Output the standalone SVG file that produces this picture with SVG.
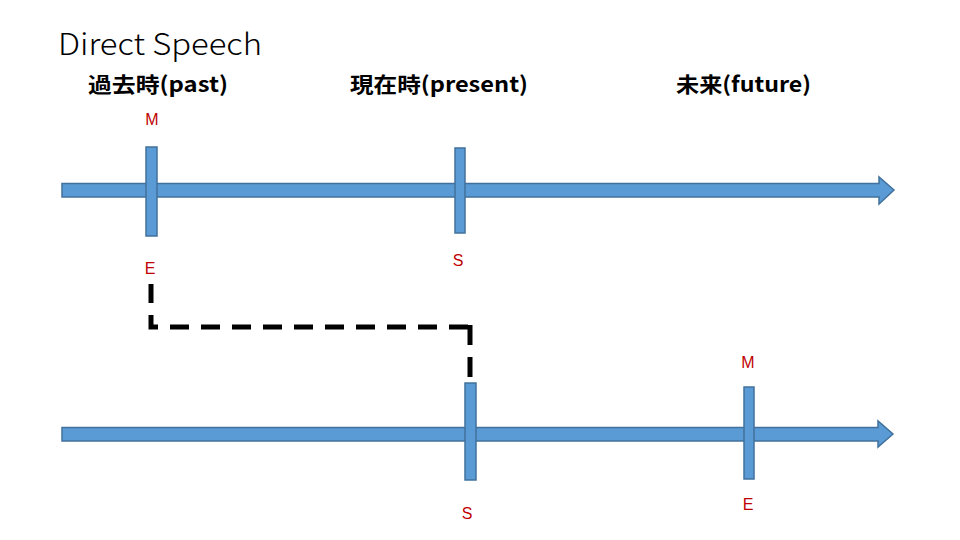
<svg xmlns="http://www.w3.org/2000/svg" width="960" height="540" viewBox="0 0 960 540">
<style>
.title{font-family:"Noto Sans CJK JP","DejaVu Sans",sans-serif;font-weight:300;font-size:30px;fill:#000}
.hdr{font-family:"Noto Sans CJK JP","Liberation Sans",sans-serif;font-weight:700;font-size:21px;fill:#000}
.lbl{font-family:"Liberation Sans","Noto Sans",sans-serif;font-size:16px;fill:#C00000;text-anchor:middle}
.axis{fill:#5B9BD5;stroke:#41719C;stroke-width:1.5}
.tick{fill:#5B9BD5;stroke:#41719C;stroke-width:1.5}
.dash{fill:none;stroke:#000;stroke-width:5;stroke-dasharray:19 12}
</style>
<rect width="960" height="540" fill="#fff"/>
<g id="title"><text class="title" x="58" y="55" textLength="204" lengthAdjust="spacingAndGlyphs">Direct Speech</text></g>
<g id="headers">
<text class="hdr" x="88" y="92" textLength="140" lengthAdjust="spacingAndGlyphs">過去時(past)</text>
<text class="hdr" x="350" y="92" textLength="178" lengthAdjust="spacingAndGlyphs">現在時(present)</text>
<text class="hdr" x="676" y="92" textLength="135" lengthAdjust="spacingAndGlyphs">未来(future)</text>
</g>
<g id="timeline-top">
<path class="axis" d="M62,183.5 H879 V177 L894,190 L879,204 V197 H62 Z"/>
<rect class="tick" x="146" y="147" width="11" height="89"/>
<rect class="tick" x="455" y="148" width="10" height="85"/>
<text class="lbl" x="152" y="125">M</text>
<text class="lbl" x="150" y="274">E</text>
<text class="lbl" x="458" y="266">S</text>
</g>
<g id="timeline-bottom">
<path class="axis" d="M62,427.5 H878 V421 L893,434 L878,447 V441 H62 Z"/>
<rect class="tick" x="465" y="383" width="11" height="97"/>
<rect class="tick" x="744" y="387" width="10" height="92"/>
<text class="lbl" x="748" y="368">M</text>
<text class="lbl" x="467" y="519">S</text>
<text class="lbl" x="748" y="510">E</text>
</g>
<g id="connectors">
<path class="dash" d="M151,284 V327 H472"/>
<path class="dash" d="M470,325 V377" style="stroke-dasharray:20 12"/>
</g>
</svg>
